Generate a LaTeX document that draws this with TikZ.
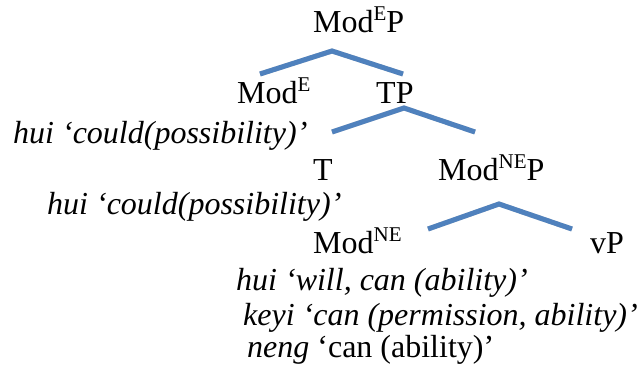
\documentclass[tikz,border=0pt]{standalone}
\usepackage{fontspec}
\setmainfont{Liberation Serif}
\usetikzlibrary{positioning}
\definecolor{branchblue}{RGB}{79,129,189}
\newcommand{\upsc}[1]{\raisebox{0.36em}{\fontsize{21}{21}\selectfont #1}}

\begin{document}
\begin{tikzpicture}[
    x=1pt, y=-1pt,
    every node/.style={inner sep=0pt, anchor=base west, font=\fontsize{32}{38}\selectfont},
    gloss/.style={font=\fontsize{32}{38}\selectfont\itshape},
    branch/.style={draw=branchblue, line width=5pt, line join=miter},
    shade/.style={draw=black!18, line width=5pt, line join=miter, shift={(0.5,2.5)}}
]
\useasboundingbox (0,0) rectangle (639,370);

% categories
\node (modep)  at (313,32)  {Mod\upsc{E}P};
\node (mode)   at (237,103) {Mod\upsc{E}};
\node (tp)     at (376,103) {TP};
\node (t)      at (313,180) {T};
\node (modnep) at (438,180) {Mod\upsc{NE}P};
\node (modne)  at (313,253) {Mod\upsc{NE}};
\node (vp)     at (590,253) {vP};

% glosses
\node[gloss] (huiA) at (13,143)  {hui ‘could(possibility)’};
\node[gloss] (huiB) at (47,214)  {hui ‘could(possibility)’};
\node[gloss] (huiC) at (236,290) {hui ‘will, can (ability)’};
\node[gloss] (keyi) at (243,325) {keyi ‘can (permission, ability)’};
\node (neng) at (247,357) {\itshape neng\upshape\ ‘can (ability)’};

% branches
\coordinate (topA) at (332,51);
\coordinate (leftA) at (260,74);
\coordinate (rightA) at (403,74);
\coordinate (topB) at (404,108);
\coordinate (leftB) at (332,132);
\coordinate (rightB) at (475,132);
\coordinate (topC) at (499,204);
\coordinate (leftC) at (428,229);
\coordinate (rightC) at (572,229);

\draw[shade] (leftA) -- (topA) -- (rightA);
\draw[shade] (leftB) -- (topB) -- (rightB);
\draw[shade] (leftC) -- (topC) -- (rightC);
\draw[branch] (leftA) -- (topA) -- (rightA);
\draw[branch] (leftB) -- (topB) -- (rightB);
\draw[branch] (leftC) -- (topC) -- (rightC);

\end{tikzpicture}
\end{document}
